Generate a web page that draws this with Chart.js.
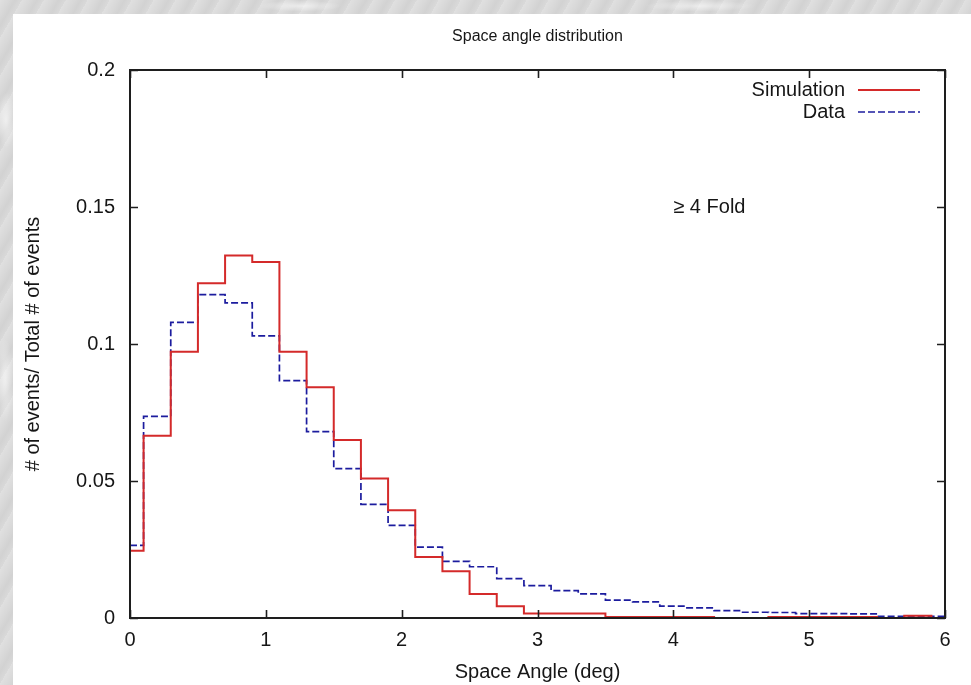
<!DOCTYPE html>
<html>
<head>
<meta charset="utf-8">
<script src="https://cdn.jsdelivr.net/npm/chart.js@4/dist/chart.umd.min.js"></script>
<style>
html, body { margin: 0; padding: 0; width: 971px; height: 685px; overflow: hidden; }
body {
  position: relative;
  background-color: #d9d9d9;
  background-image:
    radial-gradient(ellipse 14px 40px at 6px 120px, rgba(255,255,255,0.6), rgba(255,255,255,0) 70%),
    radial-gradient(ellipse 12px 60px at 5px 380px, rgba(255,255,255,0.55), rgba(255,255,255,0) 70%),
    radial-gradient(ellipse 60px 8px at 300px 6px, rgba(255,255,255,0.55), rgba(255,255,255,0) 70%),
    radial-gradient(ellipse 80px 8px at 700px 6px, rgba(255,255,255,0.5), rgba(255,255,255,0) 70%),
    repeating-linear-gradient(120deg, rgba(255,255,255,0.18) 0px, rgba(255,255,255,0) 7px, rgba(160,160,160,0.12) 13px, rgba(255,255,255,0) 19px);
}
#paper { position: absolute; left: 13px; top: 14px; right: 0; bottom: 0; background: #ffffff; }
#wrap { position: absolute; left: 0; top: 0; width: 971px; height: 685px; }
</style>
</head>
<body>
<div id="paper"></div>
<div id="wrap"><canvas id="c" width="971" height="685"></canvas></div>
<script>
// ---- text ----
const titleText = 'Space angle distribution';
const xAxisTitle = 'Space Angle (deg)';
const yAxisTitle = '# of events/ Total # of events';
const annotationText = '\u2265 4 Fold';
const seriesNames = ['Simulation', 'Data'];

// ---- data (bin centres in degrees, bin width 0.2) ----
const binCenters = [0.0, 0.2, 0.4, 0.6, 0.8, 1.0, 1.2, 1.4, 1.6, 1.8, 2.0,
                    2.2, 2.4, 2.6, 2.8, 3.0, 3.2, 3.4, 3.6, 3.8, 4.0,
                    4.2, 4.4, 4.6, 4.8, 5.0, 5.2, 5.4, 5.6, 5.8, 6.0];
const simulation = [0.0245, 0.0665, 0.0972, 0.1222, 0.1323, 0.1299, 0.0972, 0.0842, 0.0650, 0.0509, 0.0393,
                    0.0223, 0.0171, 0.0088, 0.0043, 0.0016, 0.0016, 0.0016, 0.0004, 0.0004, 0.0004,
                    0.0004, 0.0000, 0.0000, 0.0004, 0.0004, 0.0004, 0.0004, 0.0000, 0.0008, 0.0000];
const dataValues = [0.0265, 0.0736, 0.1079, 0.1180, 0.1150, 0.1030, 0.0866, 0.0680, 0.0545, 0.0415, 0.0338,
                    0.0259, 0.0207, 0.0187, 0.0144, 0.0118, 0.0100, 0.0088, 0.0065, 0.0059, 0.0043,
                    0.0037, 0.0027, 0.0021, 0.0020, 0.0016, 0.0016, 0.0015, 0.0006, 0.0006, 0.0006];

// ---- axes ----
const xTicks = [0, 1, 2, 3, 4, 5, 6];
const yTicks = [0, 0.05, 0.1, 0.15, 0.2];
const xRange = [0, 6];
const yRange = [0, 0.2];
const annotationAt = { x: 4, y: 0.15 };

// ---- styles ----
const FONT = '"Liberation Sans", Arial, Helvetica, sans-serif';
const TEXT = '#161616';
const RED = '#d42a2a';
const BLUE = '#1c1c9e';

const framePlugin = {
  id: 'gnuplotFrame',
  afterDatasetsDraw(chart) {
    const { ctx, chartArea: a, scales } = chart;
    const xs = scales.x, ys = scales.y;
    const tl = 8;
    ctx.save();
    ctx.strokeStyle = '#1e1e1e';
    ctx.lineWidth = 2;
    ctx.strokeRect(a.left, a.top, a.right - a.left, a.bottom - a.top);
    ctx.lineWidth = 1.6;
    ctx.beginPath();
    xTicks.forEach(v => {
      const px = Math.round(xs.getPixelForValue(v)) + 0.5;
      ctx.moveTo(px, a.bottom); ctx.lineTo(px, a.bottom - tl);
      ctx.moveTo(px, a.top); ctx.lineTo(px, a.top + tl);
    });
    yTicks.forEach(v => {
      const py = Math.round(ys.getPixelForValue(v)) + 0.5;
      ctx.moveTo(a.left, py); ctx.lineTo(a.left + tl, py);
      ctx.moveTo(a.right, py); ctx.lineTo(a.right - tl, py);
    });
    ctx.stroke();

    // title
    ctx.fillStyle = TEXT;
    ctx.font = '16px ' + FONT;
    ctx.textAlign = 'center';
    ctx.textBaseline = 'middle';
    ctx.fillText(titleText, (a.left + a.right) / 2, 37);

    // legend (gnuplot style: label then sample)
    ctx.font = '20px ' + FONT;
    ctx.textAlign = 'right';
    chart.data.datasets.forEach((ds, i) => {
      const y = a.top + 20 + i * 22;
      ctx.fillStyle = TEXT;
      ctx.fillText(ds.label, a.right - 100, y);
      ctx.strokeStyle = ds.borderColor;
      ctx.lineWidth = ds.borderWidth;
      ctx.setLineDash(ds.borderDash || []);
      ctx.beginPath();
      ctx.moveTo(a.right - 87, y);
      ctx.lineTo(a.right - 25, y);
      ctx.stroke();
      ctx.setLineDash([]);
    });

    // annotation
    ctx.fillStyle = TEXT;
    ctx.textAlign = 'left';
    ctx.fillText(annotationText, xs.getPixelForValue(annotationAt.x), ys.getPixelForValue(annotationAt.y));
    ctx.restore();
  }
};

new Chart(document.getElementById('c'), {
  type: 'line',
  data: {
    datasets: [
      {
        label: seriesNames[0],
        data: binCenters.map((x, i) => ({ x: x, y: simulation[i] })),
        stepped: 'middle',
        borderColor: RED,
        borderWidth: 2,
        pointRadius: 0,
        fill: false,
        clip: 2
      },
      {
        label: seriesNames[1],
        data: binCenters.map((x, i) => ({ x: x, y: dataValues[i] })),
        stepped: 'middle',
        borderColor: BLUE,
        borderWidth: 1.7,
        borderDash: [7, 3],
        pointRadius: 0,
        fill: false,
        clip: 2
      }
    ]
  },
  options: {
    responsive: false,
    animation: false,
    events: [],
    layout: { padding: { top: 70, right: 26, left: 0, bottom: 0 } },
    plugins: { legend: { display: false }, title: { display: false }, tooltip: { enabled: false } },
    scales: {
      x: {
        type: 'linear',
        min: xRange[0], max: xRange[1],
        afterBuildTicks: s => { s.ticks = xTicks.map(v => ({ value: v })); },
        afterFit: s => { s.height = 67; },
        grid: { display: false, drawTicks: false },
        border: { display: false },
        ticks: { font: { family: FONT, size: 20 }, color: TEXT, padding: 10, maxRotation: 0, callback: v => String(v) },
        title: { display: true, text: xAxisTitle, font: { family: FONT, size: 20 }, color: TEXT, padding: { top: 0, bottom: 1 } }
      },
      y: {
        type: 'linear',
        min: yRange[0], max: yRange[1],
        afterBuildTicks: s => { s.ticks = yTicks.map(v => ({ value: v })); },
        afterFit: s => { s.width = 130; },
        grid: { display: false, drawTicks: false },
        border: { display: false },
        ticks: { font: { family: FONT, size: 20 }, color: TEXT, padding: 15, callback: v => String(v) },
        title: { display: true, text: yAxisTitle, font: { family: FONT, size: 20 }, color: TEXT, padding: { top: 21, bottom: 0 } }
      }
    }
  },
  plugins: [framePlugin]
});
</script>
</body>
</html>
